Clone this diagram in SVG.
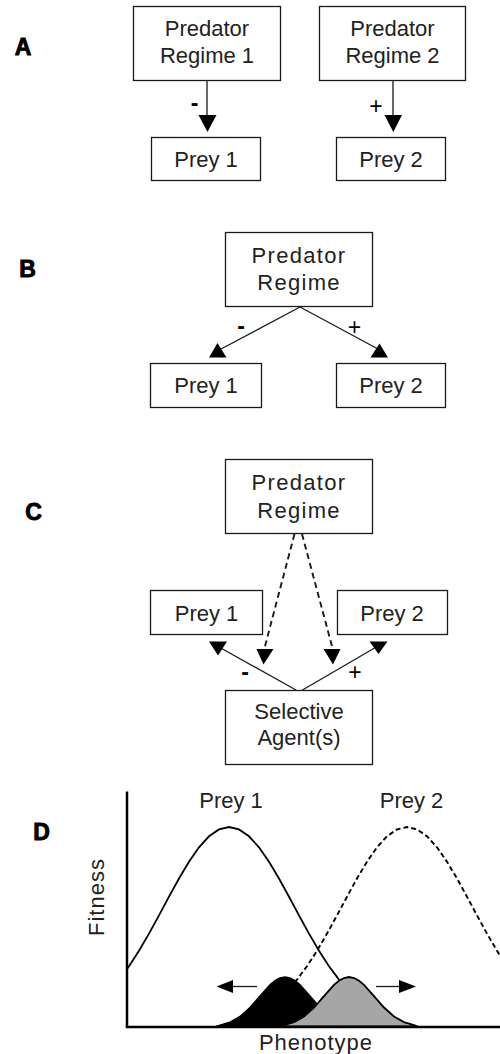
<svg xmlns="http://www.w3.org/2000/svg" width="500" height="1054" viewBox="0 0 500 1054">
<style>
.bx{fill:#fff;stroke:#1a1a1a;stroke-width:1.3}
.t{font-family:"Liberation Sans",Arial,sans-serif;font-size:22px;fill:#222;text-anchor:middle}
.ts{letter-spacing:1.3px}
.lab{font-family:"Liberation Sans",Arial,sans-serif;font-size:23px;font-weight:bold;fill:#000;stroke:#000;stroke-width:0.9;text-anchor:middle}
.sg{font-family:"Liberation Sans",Arial,sans-serif;font-size:23px;fill:#000;text-anchor:middle}
.ln{fill:none;stroke:#1a1a1a;stroke-width:1.3}
.dl{fill:none;stroke:#1a1a1a;stroke-width:1.9;stroke-dasharray:6 4}
.hd{fill:#000;stroke:none}
.ax{fill:none;stroke:#000;stroke-width:2.5}
.cv{fill:none;stroke:#000;stroke-width:1.8}
.cd{fill:none;stroke:#000;stroke-width:1.9;stroke-dasharray:5 3}
</style>

<!-- Panel labels -->
<g id="labels">
<text class="lab" x="23" y="55">A</text>
<text class="lab" x="27.5" y="277">B</text>
<text class="lab" x="33.5" y="520">C</text>
<text class="lab" x="41.5" y="840">D</text>
</g>

<!-- Panel A -->
<g id="A-pred1"><rect class="bx" x="133.5" y="6.5" width="147" height="74"/>
<text class="t" x="207" y="35.5">Predator</text><text class="t" x="207" y="63">Regime 1</text></g>
<g id="A-pred2"><rect class="bx" x="319.5" y="6.5" width="146" height="74"/>
<text class="t" x="392.5" y="35.5">Predator</text><text class="t" x="392.5" y="63">Regime 2</text></g>
<g id="A-prey1"><rect class="bx" x="151.5" y="137.5" width="109" height="43"/>
<text class="t" x="206" y="167">Prey 1</text></g>
<g id="A-prey2"><rect class="bx" x="336.5" y="137.5" width="109" height="43"/>
<text class="t" x="391" y="167">Prey 2</text></g>

<!-- Panel B -->
<g id="B-pred"><rect class="bx" x="225.5" y="232.5" width="147" height="74"/>
<text class="t ts" x="299" y="263">Predator</text><text class="t ts" x="299" y="290">Regime</text></g>
<g id="B-prey1"><rect class="bx" x="150.5" y="363.5" width="111" height="44"/>
<text class="t" x="206" y="393">Prey 1</text></g>
<g id="B-prey2"><rect class="bx" x="336.5" y="363.5" width="109" height="44"/>
<text class="t" x="391" y="393">Prey 2</text></g>

<!-- Panel C -->
<g id="C-pred"><rect class="bx" x="225.5" y="459.5" width="147" height="74"/>
<text class="t ts" x="299" y="490">Predator</text><text class="t ts" x="299" y="518">Regime</text></g>
<g id="C-prey1"><rect class="bx" x="150.5" y="590.5" width="112" height="44"/>
<text class="t" x="206.5" y="620.5">Prey 1</text></g>
<g id="C-prey2"><rect class="bx" x="337.5" y="590.5" width="110" height="44"/>
<text class="t" x="392" y="620.5">Prey 2</text></g>
<g id="C-agent"><rect class="bx" x="225.5" y="690.5" width="147" height="74"/>
<text class="t" x="299" y="719">Selective</text><text class="t" x="299" y="745">Agent(s)</text></g>

<!-- Connectors -->
<g id="connectors">
<!-- A -->
<line class="ln" x1="207" y1="81" x2="207" y2="118"/>
<polygon class="hd" points="198.5,115 216.5,115 207.5,132"/>
<line class="ln" x1="393" y1="81" x2="393" y2="118"/>
<polygon class="hd" points="384.5,115 402,115 393.3,132"/>
<text class="sg" x="194.5" y="111" font-weight="bold">-</text>
<text class="sg" x="376" y="114">+</text>
<!-- B -->
<line class="ln" x1="300" y1="307" x2="221" y2="349"/>
<polygon class="hd" points="209,357.5 226.5,357.5 217.5,343"/>
<line class="ln" x1="300" y1="307" x2="378" y2="349"/>
<polygon class="hd" points="370.5,357.5 388,357.5 379.5,343.5"/>
<text class="sg" x="241" y="334" font-weight="bold">-</text>
<text class="sg" x="354.5" y="335">+</text>
<!-- C dashed -->
<line class="dl" x1="294.5" y1="534" x2="264" y2="650"/>
<polygon class="hd" points="256.5,649 273.5,649 263.5,664.5"/>
<line class="dl" x1="302" y1="534" x2="333" y2="650"/>
<polygon class="hd" points="323.5,649 340.5,649 333,664.5"/>
<!-- C solid -->
<line class="ln" x1="296" y1="690" x2="219" y2="647"/>
<polygon class="hd" points="209,641.5 227,641.5 218,655.5"/>
<line class="ln" x1="302.5" y1="690" x2="378" y2="646"/>
<polygon class="hd" points="369.5,641.5 387.5,641.5 378.5,654"/>
<text class="sg" x="245" y="680" font-weight="bold">-</text>
<text class="sg" x="355" y="680">+</text>
</g>

<!-- Panel D -->
<g id="D-plot">
<text class="t" x="231" y="808">Prey 1</text>
<text class="t" x="411.5" y="808">Prey 2</text>
<text class="t" style="letter-spacing:1px" transform="translate(104,897) rotate(-90)">Fitness</text>
<text class="t" style="letter-spacing:1px" x="316" y="1050">Phenotype</text>
<path class="cv" d="M127,969 L129,966.2 L139,950.8 L149,933.6 L159,915.4 L169,896.7 L179,878.5 L189,861.7 L199,847.3 L209,836.3 L219,829.4 L229,827 L239,829.4 L249,836.3 L259,847.3 L269,861.7 L279,878.5 L289,896.7 L299,915.4 L309,933.6 L319,950.8 L329,966.2 L339,979.6 L349,991 L359,1000.3 L369,1007.6"/>
<path class="cd" d="M265,1008.9 L277,1000.3 L287,991 L297,979.6 L307,966.2 L317,950.8 L327,933.6 L337,915.4 L347,896.7 L357,878.5 L367,861.7 L377,847.3 L387,836.3 L397,829.4 L407,827 L417,829.4 L427,836.3 L437,847.3 L447,861.7 L457,878.5 L467,896.7 L477,915.4 L487,933.6 L497,950.8 L500,955.6"/>
<path fill="#000" stroke="#000" stroke-width="1.5" d="M216,1026.5 L220,1025.1 L230,1022.1 L240,1016.5 L250,1007.5 L260,996.1 L270,984.9 L275,980.7 L280,978 L285,977 L290,978 L295,980.7 L300,984.9 L310,996.1 L320,1007.5 L330,1016.5 L340,1022.1 L350,1025.1 L354,1026.5 Z"/>
<path fill="#a6a6a6" stroke="#000" stroke-width="1.8" d="M280,1026.5 L284,1025.1 L294,1022.1 L304,1016.5 L314,1007.5 L324,996.1 L334,984.9 L339,980.7 L344,978 L349,977 L354,978 L359,980.7 L364,984.9 L374,996.1 L384,1007.5 L394,1016.5 L404,1022.1 L414,1025.1 L418,1026.5 Z"/>
<line class="ax" x1="127" y1="791.5" x2="127" y2="1027"/>
<line class="ax" x1="125.8" y1="1027" x2="500" y2="1027"/>
<line class="ln" x1="232" y1="986.5" x2="257" y2="986.5" stroke-width="2"/>
<polygon class="hd" points="216.5,986.5 233,980 233,993"/>
<line class="ln" x1="376" y1="986.5" x2="400" y2="986.5" stroke-width="2"/>
<polygon class="hd" points="416,986.5 399,980 399,993"/>
</g>
</svg>
